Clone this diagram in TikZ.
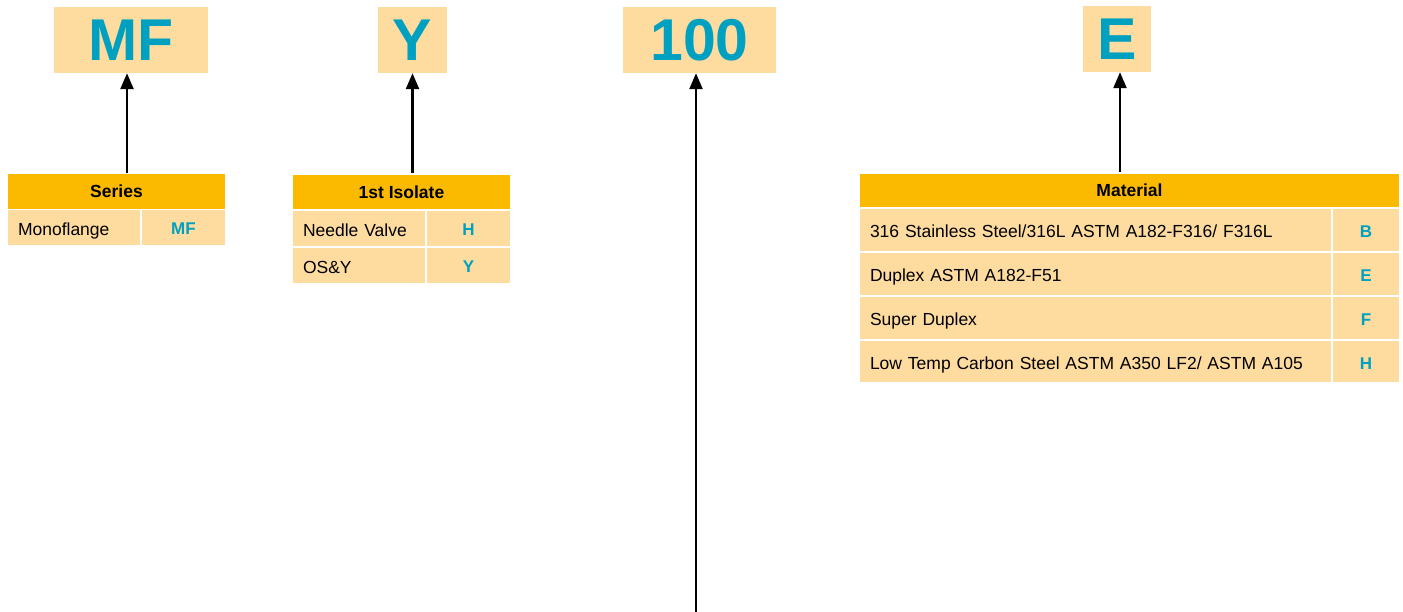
\documentclass[tikz,border=0pt]{standalone}
\usepackage{fontspec}
\setmainfont{Liberation Sans}
\usepackage{tikz}
\usetikzlibrary{arrows.meta}
\usepackage{xcolor}
\definecolor{hdrorange}{RGB}{251,186,0}
\definecolor{celltan}{RGB}{254,220,160}
\definecolor{codeteal}{RGB}{0,160,192}

\begin{document}
\begin{tikzpicture}[x=1pt,y=-1pt,
  bigbox/.style={fill=celltan,inner sep=0pt,text=codeteal,font=\fontsize{59}{60}\selectfont\bfseries},
  hdrcell/.style={fill=hdrorange,draw=white,line width=1.5pt,inner sep=0pt,font=\fontsize{17.5}{20}\selectfont\bfseries},
  txtcell/.style={fill=celltan,draw=white,line width=1.5pt,inner xsep=11pt,inner ysep=0pt,align=left,text height=16pt,text depth=0pt,font=\fontsize{17.5}{20}\selectfont},
  codecell/.style={fill=celltan,draw=white,line width=1.5pt,inner sep=0pt,text height=15pt,text depth=0pt,text=codeteal,font=\fontsize{17}{20}\selectfont\bfseries},
  upar/.style={line width=2.4pt,-{Triangle[length=16pt,width=13pt]}}]
\useasboundingbox (0,0) rectangle (1403,612);

% code letters on top
\node[bigbox,minimum width=154pt,minimum height=66pt] (boxMF) at (131,40) {MF};
\node[bigbox,minimum width=69pt,minimum height=66pt] (boxY) at (412.5,40) {Y};
\node[bigbox,minimum width=153pt,minimum height=66pt] (boxHun) at (699.5,40) {100};
\node[bigbox,minimum width=68pt,minimum height=66pt] (boxE) at (1117,39) {E};

% series
\node[hdrcell,minimum width=219pt,minimum height=36pt] (hdrSer) at (116.5,191.5) {Series};
\node[txtcell,text width=112pt,minimum height=36pt] (serA) at (74,227.5) {Monoflange};
\node[codecell,minimum width=85pt,minimum height=36pt] (serAc) at (183.5,227.5) {MF};

% 1st isolate
\node[hdrcell,minimum width=219pt,minimum height=36pt] (hdrIso) at (401.5,192) {1st Isolate};
\node[txtcell,text width=112pt,minimum height=37pt] (isoA) at (359,228.5) {Needle Valve};
\node[codecell,minimum width=85pt,minimum height=37pt] (isoAc) at (468.5,228.5) {H};
\node[txtcell,text width=112pt,minimum height=37pt] (isoB) at (359,265.5) {OS\&Y};
\node[codecell,minimum width=85pt,minimum height=37pt] (isoBc) at (468.5,265.5) {Y};

% material
\node[hdrcell,minimum width=541pt,minimum height=35pt] (hdrMat) at (1129.5,190.5) {Material};
\node[txtcell,text width=451pt,minimum height=44pt] (matA) at (1095.5,230) {316 Stainless Steel/316L ASTM A182-F316/ F316L};
\node[codecell,minimum width=68pt,minimum height=44pt] (matAc) at (1366,230) {B};
\node[txtcell,text width=451pt,minimum height=44pt] (matB) at (1095.5,274) {Duplex ASTM A182-F51};
\node[codecell,minimum width=68pt,minimum height=44pt] (matBc) at (1366,274) {E};
\node[txtcell,text width=451pt,minimum height=44pt] (matC) at (1095.5,318) {Super Duplex};
\node[codecell,minimum width=68pt,minimum height=44pt] (matCc) at (1366,318) {F};
\node[txtcell,text width=451pt,minimum height=43pt] (matD) at (1095.5,361.5) {Low Temp Carbon Steel ASTM A350 LF2/ ASTM A105};
\node[codecell,minimum width=68pt,minimum height=43pt] (matDc) at (1366,361.5) {H};

\coordinate (hunFoot) at (696,612);

% arrows
\draw[upar] ([xshift=-4pt]boxMF.south |- hdrSer.north) -- ([xshift=-4pt]boxMF.south);
\draw[upar] (boxY.south |- hdrIso.north) -- (boxY.south);
\draw[upar] (hunFoot) -- (hunFoot |- boxHun.south);
\draw[upar] ([xshift=3pt]boxE.south |- hdrMat.north) -- ([xshift=3pt]boxE.south);
\end{tikzpicture}
\end{document}
